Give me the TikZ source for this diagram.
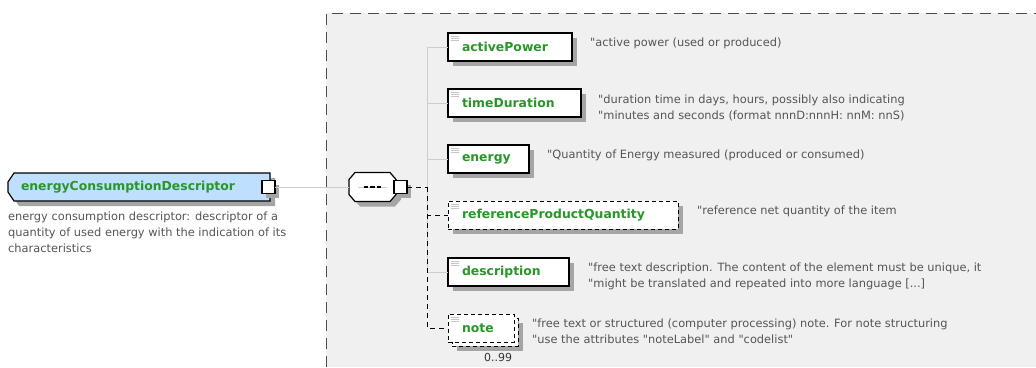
\documentclass[tikz,border=0pt]{standalone}
\usepackage{fontspec}
\setmainfont{DejaVu Sans}
\usetikzlibrary{shadows,positioning}
\pgfdeclarelayer{background}
\pgfsetlayers{background,main}
\definecolor{elgreen}{RGB}{40,150,40}
\definecolor{doctext}{RGB}{85,85,85}
\definecolor{panel}{RGB}{240,240,240}
\definecolor{elblue}{RGB}{190,223,255}
\definecolor{shade}{RGB}{165,165,165}
\definecolor{treeline}{RGB}{205,205,205}
\newcommand{\dq}{\textquotedbl}
\tikzstyle{element} = [rectangle, draw=black, line width=1.2pt, fill=white, outer sep=0pt,
    minimum height=28pt, inner xsep=14pt, inner ysep=0pt, align=left,
    font=\fontsize{12.4}{14}\selectfont\bfseries, text=elgreen,
    drop shadow={shadow xshift=5pt, shadow yshift=-5pt, fill=shade, opacity=1},
    path picture={\foreach \y in {-3pt,-5pt,-7pt}
      \draw[gray!45, line width=0.6pt, solid] ([shift={(3pt,\y)}]path picture bounding box.north west) -- ++(8pt,0pt);}]
\tikzstyle{optional} = [element, line width=0.9pt, dash pattern=on 4pt off 3pt]
\tikzstyle{holder} = [rectangle, draw=none, outer sep=0pt, inner ysep=0pt, align=left,
    font=\fontsize{12.4}{14}\selectfont\bfseries, text=elgreen]
\tikzstyle{outline} = [draw=black, line width=1.2pt]
\tikzstyle{outline shadow} = [fill=shade, transform canvas={shift={(5pt,-5pt)}}]
\tikzstyle{doc} = [font=\fontsize{11.4}{16}\selectfont, text=doctext, align=left, inner sep=0pt]
\tikzstyle{port} = [rectangle, draw=black, line width=1.2pt, fill=white, minimum size=13pt, inner sep=0pt,
    outer sep=0pt, drop shadow={shadow xshift=4pt, shadow yshift=-4pt, fill=shade, opacity=1}]
\tikzstyle{tree} = [draw=treeline, line width=1pt]
\tikzstyle{opttree} = [draw=black, line width=0.9pt, dash pattern=on 5pt off 4pt]

\begin{document}
\begin{tikzpicture}[x=1pt, y=-1pt]
      \useasboundingbox (0,0) rectangle (1036,367);
      % root element and sequence compositor
      \node [holder, minimum width=262pt, minimum height=28pt, inner xsep=13pt, text width=236pt, anchor=north west]
        (main) at (8,173) {energyConsumptionDescriptor};
      \node [port] (mainport) at ([xshift=-1.5pt]main.east) {};
      \node [doc, below=11pt of main.south west, anchor=north west] (maindoc)
        {energy consumption descriptor: descriptor of a\\quantity of used energy with the indication of its\\characteristics};
      \node [holder, minimum width=47pt, minimum height=29pt, right=74pt of mainport] (seq) {};
      \node [port] (seqport) at ([xshift=4.5pt]seq.east) {};
      \coordinate [right=20pt of seqport] (fork);
      % panel of the model group and chamfered outlines
      \begin{pgfonlayer}{background}
        \fill[panel] (326,13) rectangle (1036,367);
        \draw[black!70, line width=1pt, dash pattern=on 11pt off 7pt] (326,367) -- (326,13) -- (1036,13);
        \path[outline shadow] ([xshift=6pt]main.north west) -- (main.north east) -- (main.south east)
          -- ([xshift=6pt]main.south west) -- ([yshift=9pt]main.south west) -- ([yshift=-9pt]main.north west) -- cycle;
        \path[outline, fill=elblue] ([xshift=6pt]main.north west) -- (main.north east) -- (main.south east)
          -- ([xshift=6pt]main.south west) -- ([yshift=9pt]main.south west) -- ([yshift=-9pt]main.north west) -- cycle;
        \path[outline shadow] ([xshift=6pt]seq.north west) -- ([xshift=-6pt]seq.north east) -- ([yshift=-7pt]seq.north east)
          -- ([yshift=7pt]seq.south east) -- ([xshift=-6pt]seq.south east) -- ([xshift=6pt]seq.south west)
          -- ([yshift=7pt]seq.south west) -- ([yshift=-7pt]seq.north west) -- cycle;
        \path[outline, fill=white] ([xshift=6pt]seq.north west) -- ([xshift=-6pt]seq.north east) -- ([yshift=-7pt]seq.north east)
          -- ([yshift=7pt]seq.south east) -- ([xshift=-6pt]seq.south east) -- ([xshift=6pt]seq.south west)
          -- ([yshift=7pt]seq.south west) -- ([yshift=-7pt]seq.north west) -- cycle;
      \end{pgfonlayer}
      \draw[tree] ([xshift=-15pt]seq.center) -- ([xshift=14pt]seq.center);
      \foreach \dx in {-6.5pt,0pt,6.5pt}
        \fill[black] ([xshift=\dx]seq.center) +(-2.3pt,-1.3pt) rectangle +(2.3pt,1.3pt);
      % child elements
      \node [element, text width=96pt, anchor=north west] (activePower) at (448,33) {activePower};
      \node [element, text width=105pt, below=28pt of activePower.south west, anchor=north west] (timeDuration) {timeDuration};
      \node [element, text width=53pt, below=28pt of timeDuration.south west, anchor=north west] (energy) {energy};
      \node [optional, text width=202pt, below=28pt of energy.south west, anchor=north west] (refQuantity) {referenceProductQuantity};
      \node [element, text width=93pt, below=29pt of refQuantity.south west, anchor=north west] (description) {description};
      \node [optional, text width=38pt, below=28pt of description.south west, anchor=north west,
        drop shadow={shadow xshift=9pt, shadow yshift=-9pt, fill=shade, opacity=1},
        copy shadow={shadow xshift=4pt, shadow yshift=-4pt, draw=black, fill=white,
          dash pattern=on 4pt off 3pt, line width=0.9pt}] (note) {note};
      \node [font=\fontsize{11}{13}\selectfont, text=black!80, inner sep=0pt, anchor=north]
        (noteocc) at ([xshift=17pt, yshift=-11pt]note.south) {0..99};
      % documentation
      \node [doc, right=18pt of activePower.north east, anchor=north west, yshift=-5pt] (activePowerdoc)
        {\dq active power (used or produced)};
      \node [doc, right=17pt of timeDuration.north east, anchor=north west, yshift=-6pt] (timeDurationdoc)
        {\dq duration time in days, hours, possibly also indicating\\\dq minutes and seconds (format nnnD:nnnH: nnM: nnS)};
      \node [doc, right=18pt of energy.north east, anchor=north west, yshift=-5pt] (energydoc)
        {\dq Quantity of Energy measured (produced or consumed)};
      \node [doc, right=19pt of refQuantity.north east, anchor=north west, yshift=-5pt] (refQuantitydoc)
        {\dq reference net quantity of the item};
      \node [doc, right=19pt of description.north east, anchor=north west, yshift=-5pt] (descriptiondoc)
        {\dq free text description. The content of the element must be unique, it\\\dq might be translated and repeated into more language [...]};
      \node [doc, right=18pt of note.north east, anchor=north west, yshift=-5pt] (notedoc)
        {\dq free text or structured (computer processing) note. For note structuring\\\dq use the attributes \dq noteLabel\dq{} and \dq codelist\dq};
      % Draw edges
      \path [tree] (mainport.east) -- (seq.west);
      \path [tree] (fork) |- (activePower.west);
      \path [tree] (fork) |- (timeDuration.west);
      \path [tree] (fork) |- (energy.west);
      \path [tree] (fork) |- (description.west);
      \path [opttree] (seqport.east) -- (fork);
      \path [opttree] (fork) |- (refQuantity.west);
      \path [opttree] (fork) |- (note.west);
  \end{tikzpicture}
\end{document}
